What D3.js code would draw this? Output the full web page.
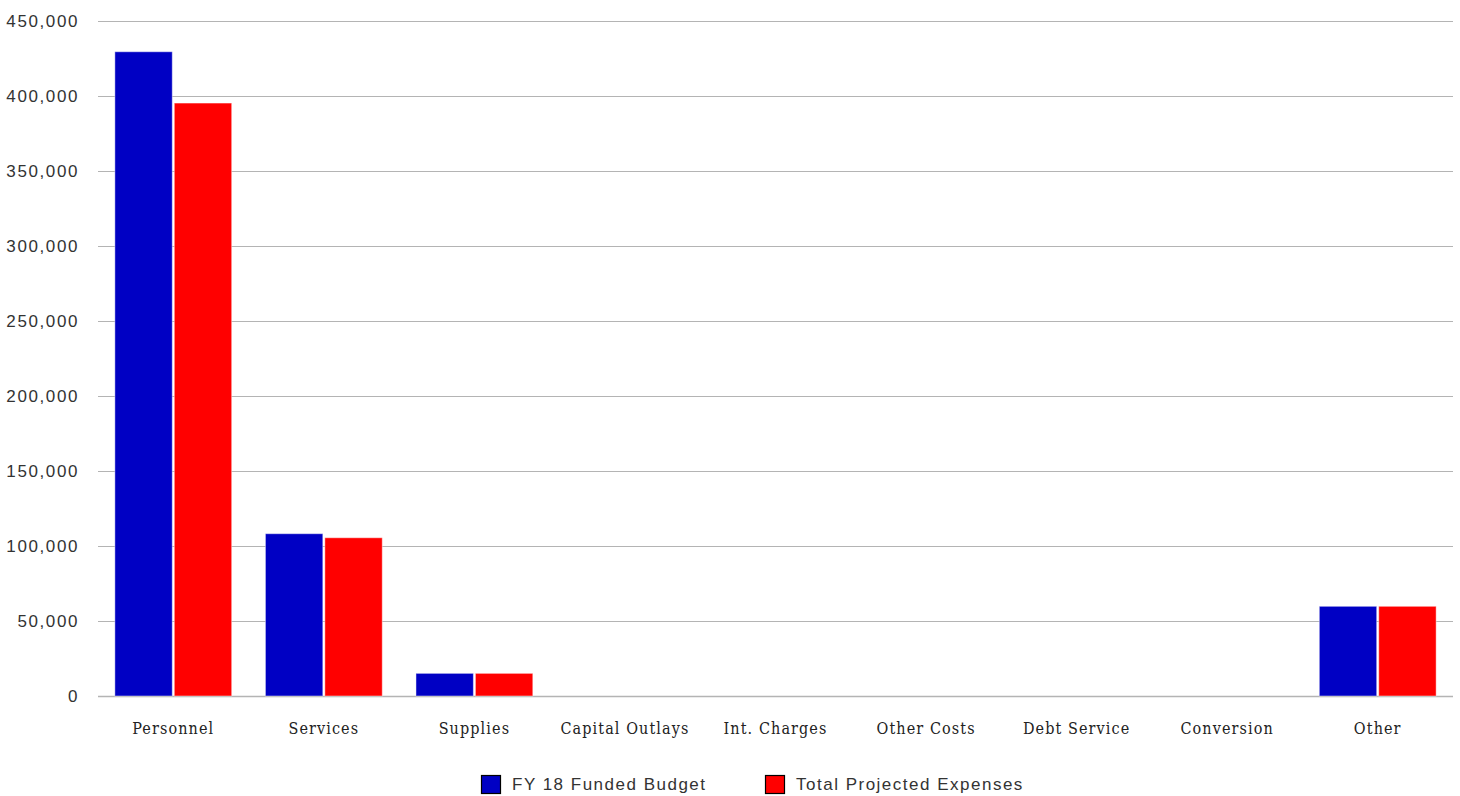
<!DOCTYPE html>
<html>
<head>
<meta charset="utf-8">
<script src="https://cdn.jsdelivr.net/npm/d3@7"></script>
<style>
  body { margin: 0; background: #fff; }
  .y-axis text { font-family: "Liberation Sans", Arial, sans-serif; font-size: 17px; letter-spacing: 1.6px; fill: #333; }
  .x-axis text { font-family: "DejaVu Serif Condensed", "DejaVu Serif", serif; font-size: 16px; letter-spacing: 1.1px; fill: #222; }
  .legend text { font-family: "Liberation Sans", Arial, sans-serif; font-size: 17px; letter-spacing: 1.5px; fill: #333; }
</style>
</head>
<body>
<div id="chart"></div>
<script>
// Categories and series
const categories = ["Personnel", "Services", "Supplies", "Capital Outlays", "Int. Charges",
                    "Other Costs", "Debt Service", "Conversion", "Other"];
const budget    = [429500, 108200, 15100, 0, 0, 0, 0, 0, 59800];
const projected = [395300, 105500, 15100, 0, 0, 0, 0, 0, 59800];
const seriesNames = ["FY 18 Funded Budget", "Total Projected Expenses"];
const seriesColors = ["#0000c4", "#ff0000"];
const yTicks = [0, 50000, 100000, 150000, 200000, 250000, 300000, 350000, 400000, 450000];

const W = 1460, H = 796;
const margin = { top: 21, right: 7, bottom: 100, left: 98 };
const width = W - margin.left - margin.right;
const height = H - margin.top - margin.bottom;

const svg = d3.select("#chart")
    .append("svg")
    .attr("width", W)
    .attr("height", H);

const g = svg.append("g")
    .attr("transform", `translate(${margin.left}, ${margin.top})`);

const x0 = d3.scaleBand().domain(categories).range([0, width]).padding(0);
const x1 = d3.scaleBand().domain([0, 1])
    .range([x0.bandwidth() * 0.112, x0.bandwidth() * 0.888])
    .paddingInner(0.034);
const y = d3.scaleLinear().domain([0, 450000]).range([height, 0]);

// gridlines
g.append("g")
    .selectAll("line")
    .data(yTicks)
    .join("line")
    .attr("x1", 0)
    .attr("x2", width)
    .attr("y1", d => Math.round(y(d)) + 0.5)
    .attr("y2", d => Math.round(y(d)) + 0.5)
    .attr("stroke", "#b4b4b4")
    .attr("stroke-width", d => d === 0 ? 1.5 : 1.2);

// y axis labels
const yAxis = g.append("g")
    .attr("class", "y-axis")
    .attr("transform", "translate(-16, 0)")
    .call(d3.axisLeft(y).tickValues(yTicks).tickFormat(d3.format(",")).tickSize(0));
yAxis.select(".domain").remove();

// bars
const rows = categories.map((c, i) => ({ cat: c, vals: [budget[i], projected[i]] }));
g.append("g")
    .selectAll("g")
    .data(rows)
    .join("g")
    .attr("transform", d => `translate(${x0(d.cat)}, 0)`)
    .selectAll("rect")
    .data(d => d.vals.map((v, k) => ({ k, v })).filter(e => e.v > 0))
    .join("rect")
    .attr("x", d => x1(d.k))
    .attr("width", x1.bandwidth())
    .attr("y", d => y(d.v))
    .attr("height", d => y(0) - y(d.v))
    .attr("fill", d => seriesColors[d.k])
    .attr("stroke", "rgba(255,255,255,0.45)")
    .attr("stroke-width", 1);

// x axis labels
const xAxis = g.append("g")
    .attr("class", "x-axis")
    .attr("transform", `translate(0, ${height})`)
    .call(d3.axisBottom(x0).tickSize(0).tickPadding(27));
xAxis.select(".domain").remove();

// legend
const legendX = [481, 765];
const legend = svg.append("g").attr("class", "legend");
seriesNames.forEach((name, k) => {
    legend.append("rect")
        .attr("x", legendX[k] + 0.5)
        .attr("y", 775.5)
        .attr("width", 19)
        .attr("height", 18)
        .attr("fill", seriesColors[k])
        .attr("stroke", "#000")
        .attr("stroke-width", 1.2);
    legend.append("text")
        .attr("x", legendX[k] + 31)
        .attr("y", 790)
        .text(name);
});
</script>
</body>
</html>
